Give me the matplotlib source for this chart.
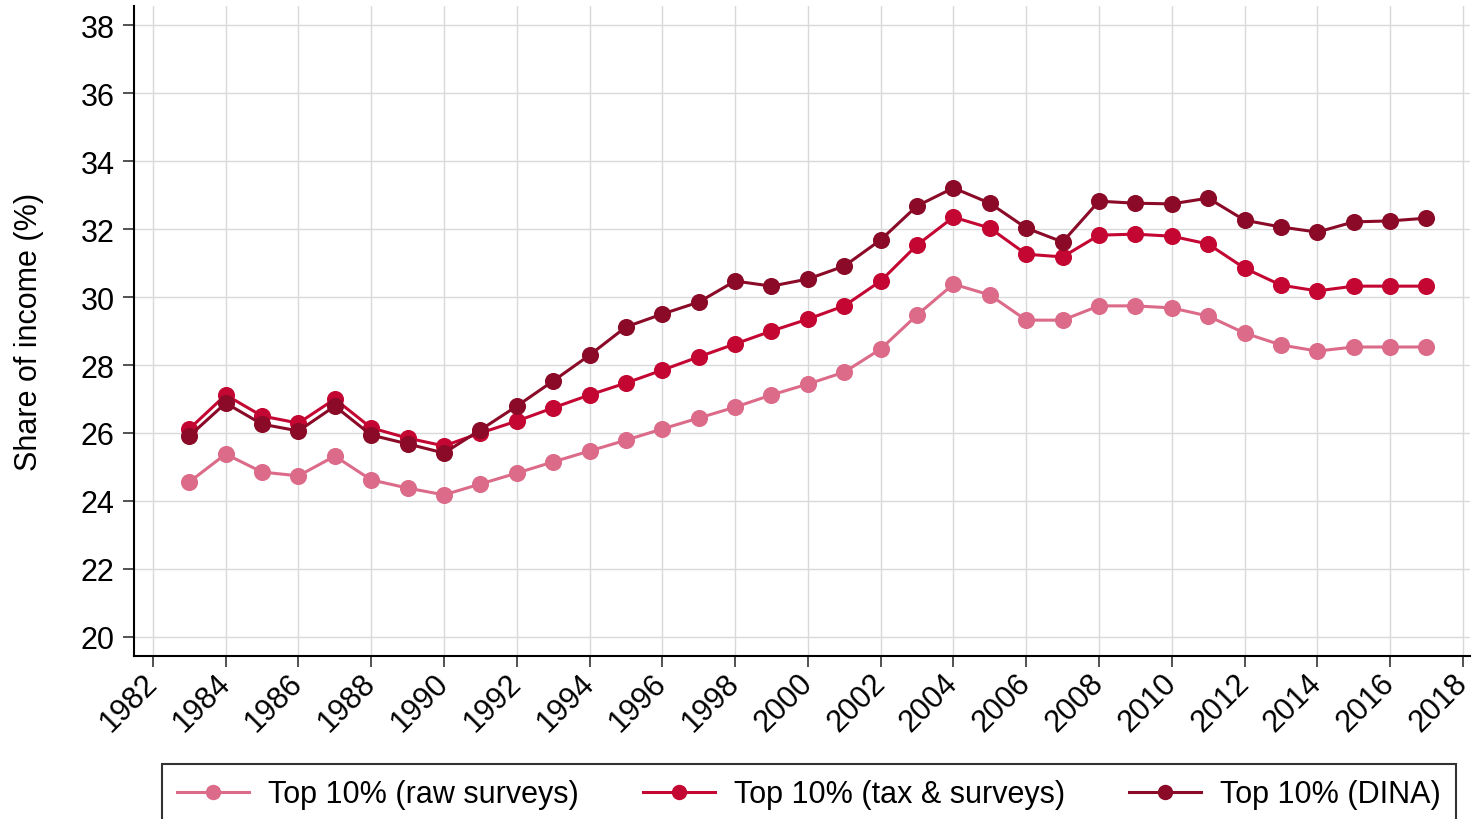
import matplotlib
matplotlib.use("Agg")
import matplotlib.pyplot as plt
import numpy as np

plt.rcParams['font.family'] = ['Liberation Sans', 'DejaVu Sans']

years = list(range(1983, 2018))
raw_surveys = [24.56, 25.38, 24.85, 24.74, 25.32, 24.62, 24.38, 24.18, 24.50, 24.82,
               25.15, 25.47, 25.79, 26.12, 26.44, 26.76, 27.12, 27.44, 27.79, 28.47,
               29.47, 30.38, 30.06, 29.32, 29.32, 29.74, 29.74, 29.68, 29.44, 28.94,
               28.59, 28.41, 28.53, 28.53, 28.53]
tax_surveys = [26.12, 27.12, 26.50, 26.29, 27.00, 26.15, 25.85, 25.62, 26.00, 26.35,
               26.74, 27.12, 27.47, 27.85, 28.24, 28.62, 29.00, 29.35, 29.74, 30.47,
               31.53, 32.35, 32.03, 31.26, 31.18, 31.82, 31.85, 31.79, 31.56, 30.85,
               30.35, 30.18, 30.32, 30.32, 30.32]
dina = [25.91, 26.88, 26.26, 26.06, 26.79, 25.94, 25.68, 25.41, 26.09, 26.79,
        27.53, 28.29, 29.12, 29.50, 29.85, 30.47, 30.32, 30.53, 30.91, 31.68,
        32.68, 33.21, 32.76, 32.03, 31.62, 32.82, 32.76, 32.74, 32.91, 32.26,
        32.06, 31.91, 32.21, 32.24, 32.32]
labels = ["Top 10% (raw surveys)", "Top 10% (tax & surveys)", "Top 10% (DINA)"]
colors = ["#DB6B88", "#C40633", "#8A0A27"]
xticks = list(range(1982, 2019, 2))
yticks = list(range(20, 39, 2))

fig = plt.figure(figsize=(14.82, 8.2), dpi=100)
ax = fig.add_axes([0.0904, 0.1988, 0.9016, 0.7930])

for series, lab, col in zip([raw_surveys, tax_surveys, dina], labels, colors):
    ax.plot(years, series, color=col, lw=2.2, marker='o', ms=12.3,
            markeredgewidth=0, label=lab, zorder=3)

ax.set_xlim(1981.48, 2018.2)
ax.set_ylim(19.44, 38.57)
ax.set_xticks(xticks)
ax.set_yticks(yticks)
ax.set_xticklabels([str(x) for x in xticks], rotation=45, ha='right', va='center',
                   rotation_mode='anchor', fontsize=22)
ax.tick_params(axis='y', labelsize=22, length=8, width=1.2, color='#333333', pad=6)
ax.tick_params(axis='x', length=8, width=1.2, color='#333333', pad=8)
ax.grid(True, color='#d9d9d9', lw=1.0, zorder=0)
ax.set_axisbelow(True)
for s in ['top', 'right']:
    ax.spines[s].set_visible(False)
for s in ['left', 'bottom']:
    ax.spines[s].set_linewidth(1.5)
    ax.spines[s].set_color('black')
ax.set_ylabel("Share of income (%)", fontsize=22, labelpad=26)

leg = fig.legend(loc='upper left', bbox_to_anchor=(0.1093, 0.0, 0.8732, 0.0671),
                 bbox_transform=fig.transFigure, mode='expand', ncol=3,
                 fontsize=22, frameon=True, fancybox=False, borderaxespad=0,
                 handlelength=2.36, handletextpad=0.62, markerscale=0.9,
                 borderpad=0.5)
leg.get_frame().set_edgecolor('black')
leg.get_frame().set_linewidth(1.5)

fig.savefig("out.png", dpi=100)
